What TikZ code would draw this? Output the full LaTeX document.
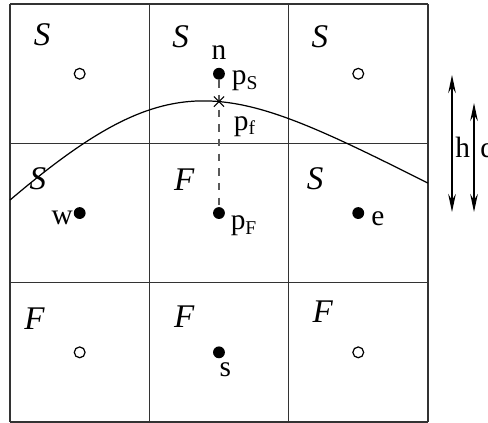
\documentclass[tikz,border=0pt]{standalone}
\usepackage{fontspec}
\setmainfont{Liberation Serif}
\usetikzlibrary{positioning,shapes.misc,arrows.meta}

\begin{document}
\begin{tikzpicture}[
  x=1cm, y=1cm,
  every node/.style={font=\fontsize{12}{14}\selectfont},
  cellule/.style={draw=black!80, line width=0.6pt},
  plein/.style={circle, fill=black, inner sep=0pt, minimum size=0.17cm},
  vide/.style={circle, draw=black, line width=0.5pt, fill=white, inner sep=0pt, minimum size=0.155cm},
  etat/.style={font=\fontsize{13.5}{15}\selectfont\itshape},
  lbl/.style={inner sep=1pt},
  cote/.style={{Stealth[length=2.6mm,width=1.1mm,inset=0.9mm]}-{Stealth[length=2.6mm,width=1.1mm,inset=0.9mm]}, line width=0.5pt}
]
\useasboundingbox (-0.144,-0.014) rectangle (6.863,6.059);

% ---- grille 3x3 ----
\draw[cellule] (0,0) grid[step=2] (6,6);

% ---- etat de chaque cellule ----
\node[etat] (t1) at (0.46,5.56) {S};
\node[etat] (t2) at (2.45,5.53) {S};
\node[etat] (t3) at (4.45,5.53) {S};
\node[etat] (t4) at (0.40,3.49) {S};
\node[etat] (t5) at (2.50,3.48) {F};
\node[etat] (t6) at (4.38,3.50) {S};
\node[etat] (t7) at (0.35,1.48) {F};
\node[etat] (t8) at (2.50,1.51) {F};
\node[etat] (t9) at (4.49,1.58) {F};

% ---- interface ----
\draw[line width=0.5pt] (0,3.187) .. controls (2.385,5.214) and (3.115,4.874) .. (6,3.431);

% ---- centres des cellules ----
\node[vide]  (no) at (1,5) {};
\node[plein] (n)  at (3,5) {};
\node[vide]  (ne) at (5,5) {};
\node[plein] (w)  at (1,3) {};
\node[plein] (c)  at (3,3) {};
\node[plein] (e)  at (5,3) {};
\node[vide]  (so) at (1,1) {};
\node[plein] (s)  at (3,1) {};
\node[vide]  (se) at (5,1) {};

\draw[dashed, black!65, line width=0.6pt] (n) -- (c);
\node[cross out, draw, line width=0.45pt, inner sep=0pt, minimum size=0.13cm] (f) at (3,4.6) {};

% ---- etiquettes ----
\node[lbl, above=2pt of n] (ln) {n};
\node[lbl, right=1.5pt of n, yshift=-3pt] (lpS) {p\textsubscript{S}};
\node[lbl, below right=0.1cm and 0.1cm of f] (lpf) {p\textsubscript{f}};
\node[lbl, anchor=north west] (lpF) at ([xshift=1pt]c.east) {p\textsubscript{F}};
\node[lbl, right=1.5pt of e, yshift=-2.5pt] (le) {e};
\node[lbl, left=-1pt of w, yshift=-2pt] (lw) {w};
\node[lbl, below=0.5pt of s, xshift=0.09cm] (ls) {s};

% ---- distances h et d ----
\coordinate (hHaut) at (6.346,4.982);
\coordinate (hBas)  at (6.346,3.015);
\coordinate (dHaut) at (6.662,4.58);
\coordinate (dBas)  at (6.662,3.015);
\draw[cote] (hHaut) -- (hBas);
\draw[cote] (dHaut) -- (dBas);
\node[lbl] (lh) at (6.50,3.94) {h};
\node[lbl] (ld) at (6.86,3.94) {d};

\end{tikzpicture}
\end{document}
